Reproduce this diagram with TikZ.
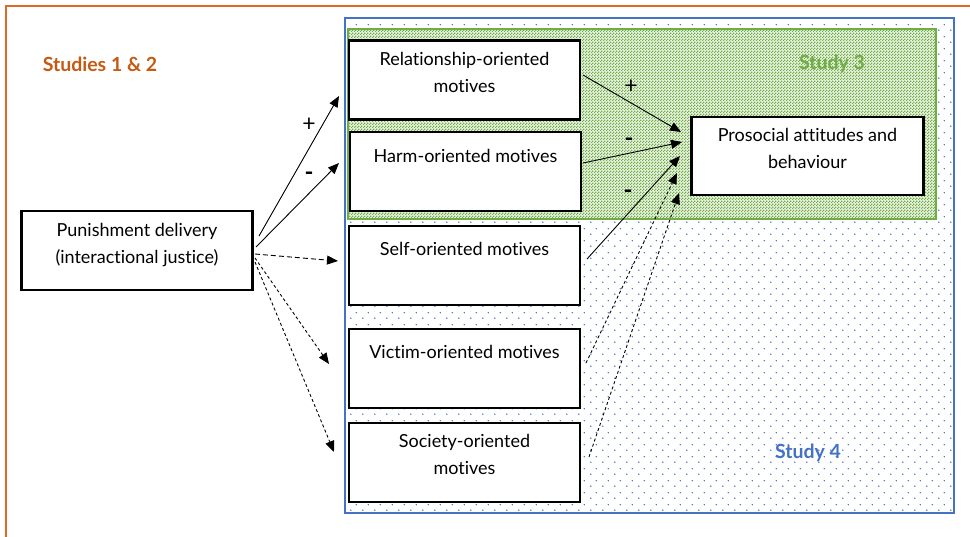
\documentclass[tikz,border=0pt]{standalone}
\usepackage{fontspec}
\setmainfont{Lato}[Ligatures={NoCommon}]
\usetikzlibrary{arrows.meta,patterns,calc}
\pgfdeclarepatternformonly{bluedots}{\pgfqpoint{0pt}{0pt}}{\pgfqpoint{12pt}{12pt}}{\pgfqpoint{12pt}{12pt}}{%
 \pgfpathcircle{\pgfqpoint{3pt}{3pt}}{0.85pt}%
 \pgfpathcircle{\pgfqpoint{9pt}{9pt}}{0.85pt}%
 \pgfusepath{fill}}
\pgfdeclarepatternformonly{greenchk}{\pgfqpoint{0pt}{0pt}}{\pgfqpoint{3pt}{3pt}}{\pgfqpoint{3pt}{3pt}}{%
 \pgfpathrectangle{\pgfqpoint{0pt}{0pt}}{\pgfqpoint{1.5pt}{1.5pt}}%
 \pgfpathrectangle{\pgfqpoint{1.5pt}{1.5pt}}{\pgfqpoint{1.5pt}{1.5pt}}%
 \pgfusepath{fill}}
\definecolor{orframe}{HTML}{E06A24}
\definecolor{ortext}{HTML}{C55A11}
\definecolor{grn}{HTML}{70AD47}
\definecolor{blu}{HTML}{4472C4}
\tikzset{
  mbox/.style={draw=black, line width=2.6pt, fill=white, minimum width=231pt, minimum height=79pt, inner sep=0pt},
  txt/.style={anchor=north, inner sep=0pt, align=center, font=\fontsize{18}{27}\selectfont},
  sgn/.style={inner sep=0pt, font=\fontsize{23}{24}\selectfont},
  msgn/.style={inner sep=0pt, font=\fontsize{24}{24}\selectfont\bfseries},
  arr/.style={-{Triangle[length=11pt,width=9pt]}, line width=0.9pt},
  darr/.style={arr, dash pattern=on 3pt off 2.5pt},
  ddarr/.style={arr, dash pattern=on 5pt off 3pt},
  ttl/.style={inner sep=0pt, font=\fontsize{19.5}{22}\selectfont\bfseries}
}
\begin{document}
\begin{tikzpicture}[x=1pt,y=-1pt]
\useasboundingbox (0,0) rectangle (970,536);
\clip (0,0) rectangle (970,536);
% orange frame
\draw[orframe, line width=2pt] (6,6) rectangle (985,550);
\node[ttl, text=ortext] (t12) at (100,64) {Studies 1 \& 2};
% study 4 box
\fill[white] (345,18) rectangle (954,513);
\fill[pattern=bluedots, pattern color=blu] (347,20) rectangle (952,511);
\draw[blu, line width=2pt] (345,18) rectangle (954,513);
\node[ttl, text=blu] (t4) at (808,453) {Study 4};
% study 3 box
\fill[grn!15!white] (348,29) rectangle (936,219);
\fill[pattern=greenchk, pattern color=grn] (348,29) rectangle (936,219);
\draw[grn, line width=2pt] (348,29) rectangle (936,219);
\node[ttl, text=grn] (t3) at (832,64) {Study 3};
% boxes
\node[mbox] (pun) at (137,250.5) {};
\node[mbox] (rel) at (464.5,80) {};
\node[mbox] (harm) at (465.5,171.5) {};
\node[mbox] (self) at (464.5,265.5) {};
\node[mbox] (vict) at (464.5,368.5) {};
\node[mbox] (soc) at (464.5,462.5) {};
\node[mbox, minimum width=232pt, minimum height=78pt] (pro) at (807.5,156) {};
% texts
\node[txt] (punt) at ($(pun.north)+(0,13)$) {Punishment delivery\\(interactional justice)};
\node[txt] (relt) at ($(rel.north)+(0,13)$) {Relationship-oriented\\motives};
\node[txt] (harmt) at ($(harm.north)+(0,18)$) {Harm-oriented motives};
\node[txt] (selft) at ($(self.north)+(0,17)$) {Self-oriented motives};
\node[txt] (victt) at ($(vict.north)+(0,17)$) {Victim-oriented motives};
\node[txt] (soct) at ($(soc.north)+(0,12)$) {Society-oriented\\motives};
\node[txt] (prot) at ($(pro.north)+(0,12)$) {Prosocial attitudes and\\behaviour};
% coordinates
\coordinate (p1) at (259,236);
\coordinate (p2) at (256,247);
\coordinate (p3) at (255,254);
\coordinate (p4) at (255,258);
\coordinate (p5) at (255,262);
\coordinate (r1) at (339,96);
\coordinate (h1) at (339,163);
\coordinate (s1) at (338,261);
\coordinate (v1) at (329,364);
\coordinate (c1) at (334,452);
\coordinate (ro) at (583,75);
\coordinate (ho) at (583,163);
\coordinate (so) at (587,259);
\coordinate (vo) at (586,363);
\coordinate (co) at (589,457);
\coordinate (q1) at (681,132);
\coordinate (q2) at (682,142);
\coordinate (q3) at (680,156);
\coordinate (q4) at (677,173);
\coordinate (q5) at (679,193);
% arrows from punishment
\draw[arr] (p1) -- (r1);
\draw[arr] (p2) -- (h1);
\draw[ddarr] (p3) -- (s1);
\draw[darr] (p4) -- (v1);
\draw[darr] (p5) -- (c1);
% arrows to prosocial
\draw[arr] (ro) -- (q1);
\draw[arr] (ho) -- (q2);
\draw[arr] (so) -- (q3);
\draw[darr] (vo) -- (q4);
\draw[darr] (co) -- (q5);
% signs
\node[sgn] (s_a) at (309,125) {+};
\node[msgn] (s_b) at (309,176) {-};
\node[sgn] (s_c) at (631,87) {+};
\node[msgn] (s_d) at (629,142) {-};
\node[msgn] (s_e) at (628,194) {-};
\end{tikzpicture}
\end{document}
